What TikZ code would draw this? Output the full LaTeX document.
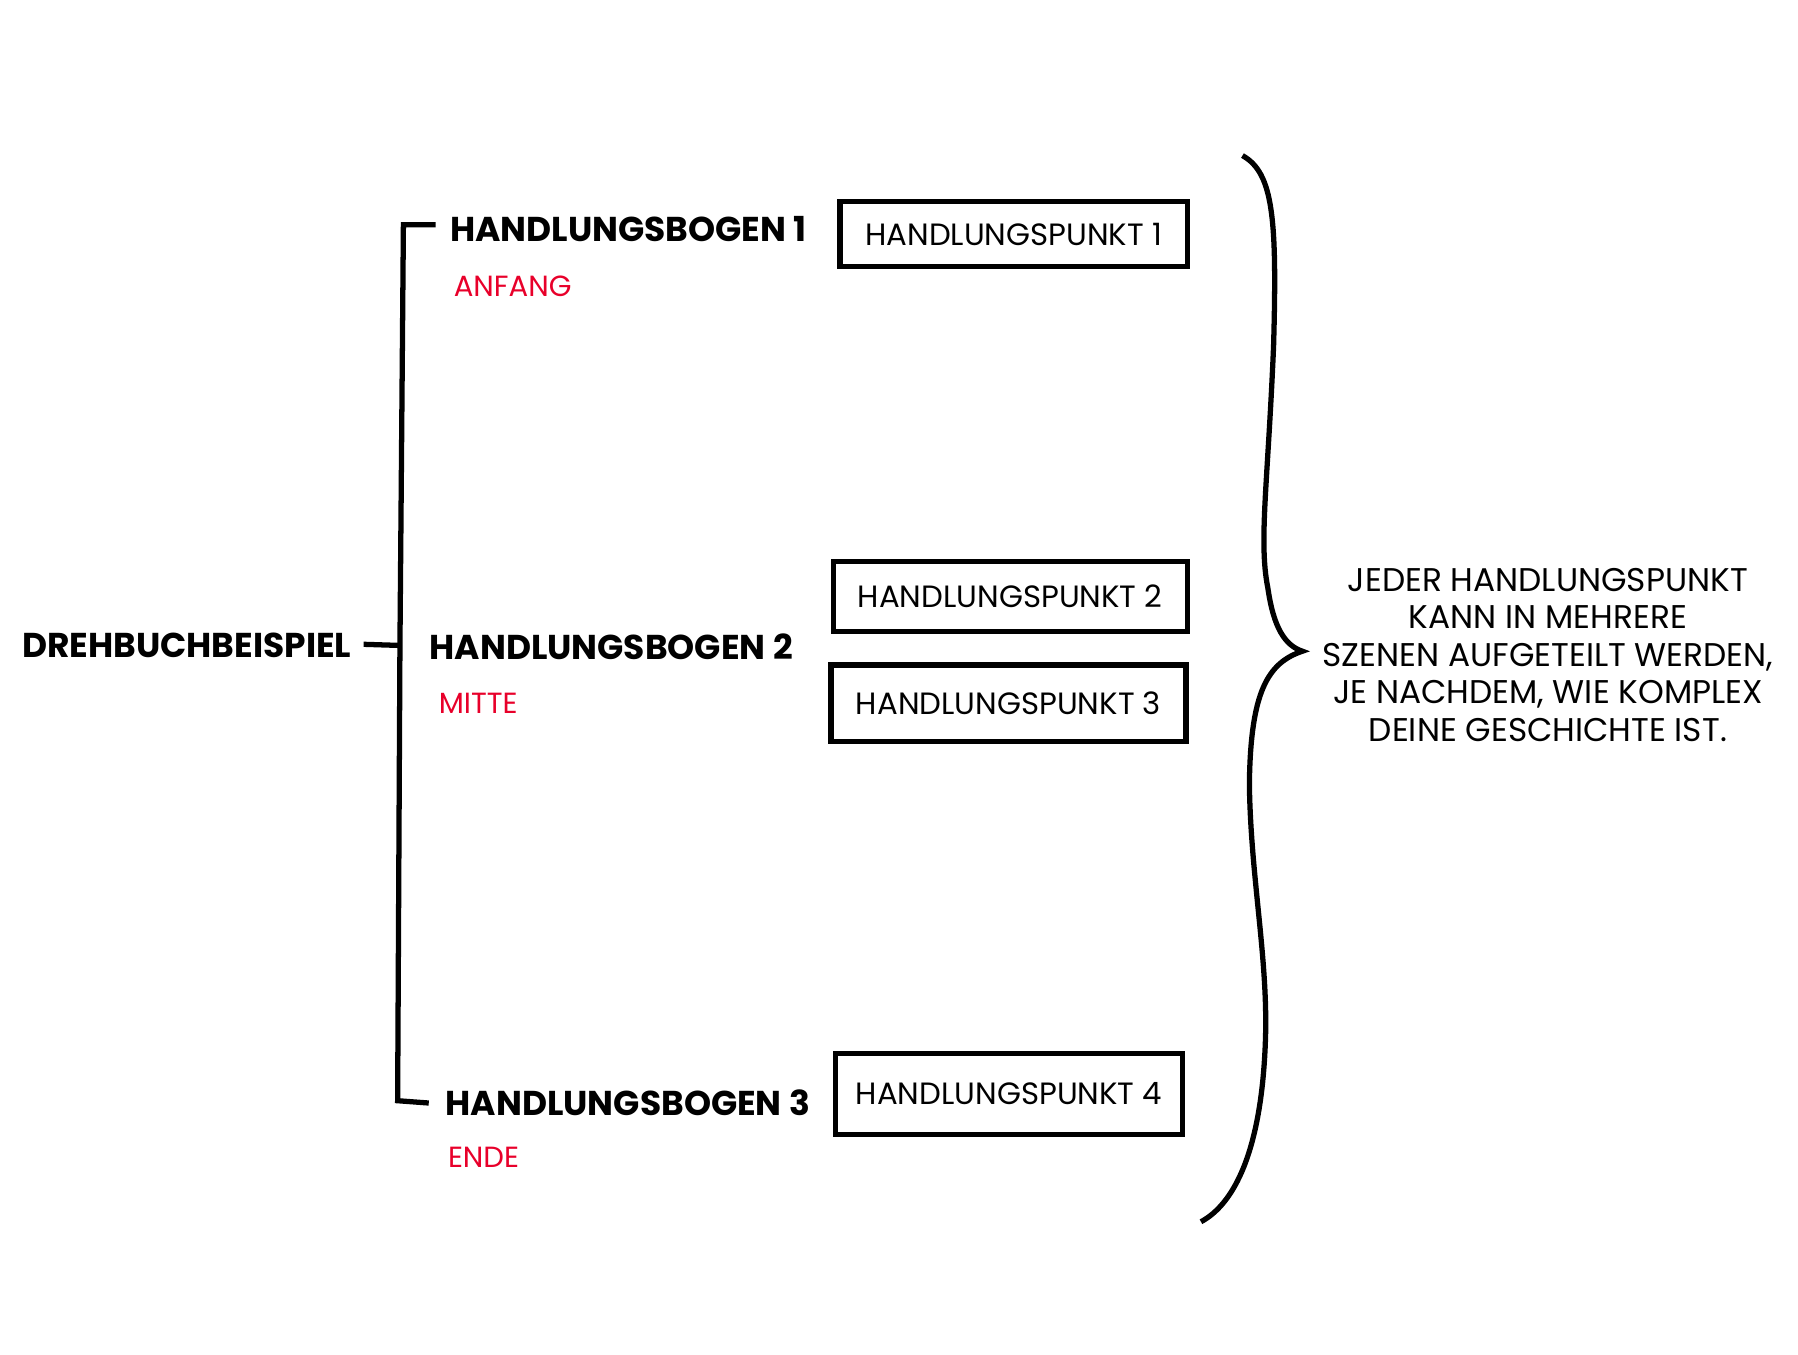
\documentclass[tikz,border=0pt]{standalone}
\usepackage{fontspec}
\setmainfont{Poppins}
\usetikzlibrary{positioning}
\definecolor{phase}{HTML}{E8002A}
\tikzstyle{arc} = [font=\bfseries\fontsize{8.5}{10}\selectfont, anchor=west, inner sep=0pt]
\tikzstyle{phaseLabel} = [font=\fontsize{7.2}{9}\selectfont, text=phase, anchor=west, inner sep=0pt]
\tikzstyle{pointBox} = [draw=black, line width=1.3pt, font=\fontsize{7.6}{9}\selectfont, inner sep=0pt]
\tikzstyle{line} = [line width=1.3pt]

\begin{document}
\begin{tikzpicture}[x=0.01cm, y=-0.01cm]
						\useasboundingbox (0,0) rectangle (1560,1175);
						\node (root) [arc, anchor=center] at (162,560) {DREHBUCHBEISPIEL};
						\node (b1) [arc] at (390,199) {HANDLUNGSBOGEN 1};
						\node (b2) [arc] at (372,561) {HANDLUNGSBOGEN 2};
						\node (b3) [arc] at (386,957) {HANDLUNGSBOGEN 3};
						\node (a1) [phaseLabel] at (393,248) {ANFANG};
						\node (a2) [phaseLabel] at (380,610) {MITTE};
						\node (a3) [phaseLabel] at (388,1004) {ENDE};
						\node (p1) [pointBox, minimum width=3.01cm, minimum height=0.56cm] at (879.5,203) {HANDLUNGSPUNKT 1};
						\node (p2) [pointBox, minimum width=3.07cm, minimum height=0.61cm] at (876.5,517.5) {HANDLUNGSPUNKT 2};
						\node (p3) [pointBox, minimum width=3.08cm, minimum height=0.66cm] at (875,610) {HANDLUNGSPUNKT 3};
						\node (p4) [pointBox, minimum width=3.01cm, minimum height=0.70cm] at (875.5,949) {HANDLUNGSPUNKT 4};
						\node (note) [align=center, font=\fontsize{8.1}{9.25}\selectfont] at (1343,568) {JEDER HANDLUNGSPUNKT\\KANN IN MEHRERE\\SZENEN AUFGETEILT WERDEN,\\JE NACHDEM, WIE KOMPLEX\\DEINE GESCHICHTE IST.};
						\coordinate (top) at (350,195);
						\coordinate (mid) at (347,560);
						\coordinate (bot) at (345,955);
						\draw [line] (root.east) ++(10,-1) -- (mid);
						\draw [line] (b1.west) ++(-12,-4) -- (top) -- (mid) -- (bot) -- ++(27,2);
						% brace
						\coordinate (braceTop) at (1078,135);
						\coordinate (braceTip) at (1130,565);
						\coordinate (braceBot) at (1042,1060);
						\draw [line] (braceTop) .. controls (1105,150) and (1108,190) .. (1105,300)
							.. controls (1100,420) and (1092,470) .. (1100,510)
							.. controls (1105,545) and (1115,560) .. (braceTip)
							.. controls (1100,575) and (1085,600) .. (1084,680)
							.. controls (1085,760) and (1100,830) .. (1098,900)
							.. controls (1095,1000) and (1070,1045) .. (braceBot);
					\end{tikzpicture}
\end{document}
